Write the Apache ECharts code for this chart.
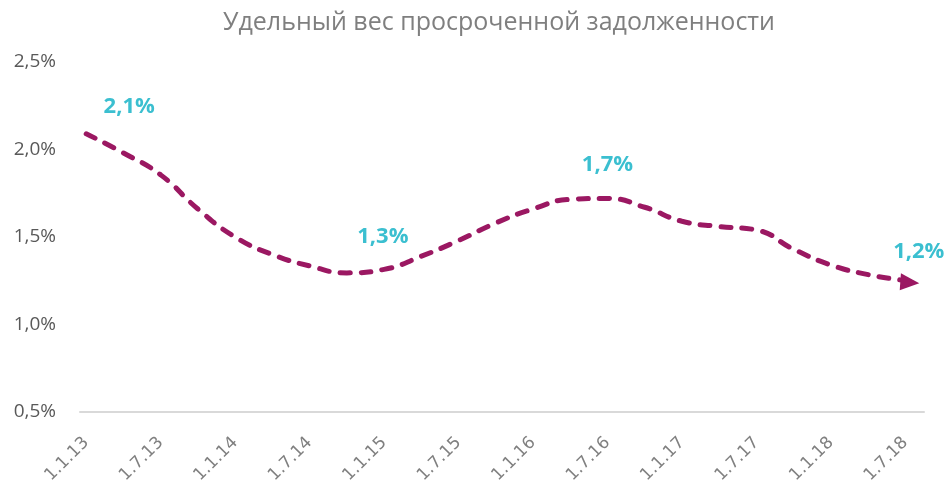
<!DOCTYPE html>
<html>
<head>
<meta charset="utf-8">
<script src="https://cdn.jsdelivr.net/npm/echarts@6/dist/echarts.min.js"></script>
<style>
  html, body { margin: 0; padding: 0; background: #fff; }
  #chart { width: 947px; height: 487px; }
</style>
</head>
<body>
<div id="chart"></div>
<script>
// подписи оси X (каждые полгода)
const tickLabels = ['1.1.13', '1.7.13', '1.1.14', '1.7.14', '1.1.15', '1.7.15',
  '1.1.16', '1.7.16', '1.1.17', '1.7.17', '1.1.18', '1.7.18']
const pointDates = ['1.1.13', '1.4.13', '1.7.13', '1.10.13', '1.1.14', '1.4.14', '1.7.14', '1.10.14',
  '1.1.15', '1.4.15', '1.7.15', '1.10.15', '1.1.16', '1.4.16', '1.7.16', '1.10.16',
  '1.1.17', '1.4.17', '1.7.17', '1.10.17', '1.1.18', '1.4.18', '1.7.18', '1.8.18']
const shares = [2.09, 1.98, 1.855, 1.66, 1.50, 1.40, 1.335, 1.295,
  1.315, 1.39, 1.48, 1.58, 1.66, 1.715, 1.72, 1.67,
  1.59, 1.56, 1.54, 1.43, 1.34, 1.285, 1.25, 1.24]
// какие точки подписаны и куда сдвинута подпись
const labelled = { '1.1.13': [43, -27], '1.10.14': [36, -36], '1.7.16': [0, -34], '1.8.18': [9, -31] }

// месячная шкала от 1.1.13 до 1.8.18
const months = []
for (let y = 13; y <= 18; y++) {
  for (let m = 1; m <= 12; m++) months.push('1.' + m + '.' + y)
}
months.length = months.indexOf('1.8.18') + 1

const fmt = v => v.toFixed(1).replace('.', ',') + '%'

const chart = echarts.init(document.getElementById('chart'))

const seriesData = pointDates.map((d, i) => {
  const item = { value: [d, shares[i]] }
  if (labelled[d]) {
    item.label = { show: true, offset: labelled[d] }
  }
  if (i === pointDates.length - 1) {
    // стрелка на конце линии
    item.symbol = 'triangle'
    item.symbolSize = [17, 19]
    item.symbolRotate = -94
    item.symbolOffset = [-8, 0]
  }
  return item
})

chart.setOption({
  title: {
    text: 'Удельный вес просроченной задолженности',
    left: 218,
    top: 5,
    textStyle: {
      color: '#7f7f7f',
      fontFamily: 'Open Sans',
      fontWeight: 'normal',
      fontSize: 25
    }
  },
  grid: { left: 80, right: 23, top: 62, bottom: 75 },
  xAxis: {
    type: 'category',
    data: months,
    boundaryGap: true,
    axisTick: { show: false },
    axisLine: { lineStyle: { color: '#d9d9d9', width: 2 } },
    axisLabel: {
      interval: (idx, val) => tickLabels.includes(val),
      rotate: 45,
      margin: 28,
      color: '#808080',
      fontFamily: 'DejaVu Sans',
      fontSize: 17
    }
  },
  yAxis: {
    type: 'value',
    min: 0.5,
    max: 2.5,
    interval: 0.5,
    splitLine: { show: false },
    axisLine: { show: false },
    axisTick: { show: false },
    axisLabel: {
      formatter: fmt,
      margin: 24,
      color: '#595959',
      fontFamily: 'Open Sans',
      fontSize: 19
    }
  },
  series: [
    {
      type: 'line',
      smooth: 0.5,
      symbol: 'circle',
      symbolSize: 0,
      itemStyle: { color: '#9b1862' },
      lineStyle: {
        color: '#9b1862',
        width: 5,
        type: [10, 11],
        cap: 'round'
      },
      label: {
        show: false,
        position: 'inside',
        formatter: p => fmt(p.value[1]),
        color: '#3bbfd0',
        fontFamily: 'Open Sans',
        fontWeight: 'bold',
        fontSize: 22
      },
      data: seriesData
    }
  ]
})
</script>
</body>
</html>
